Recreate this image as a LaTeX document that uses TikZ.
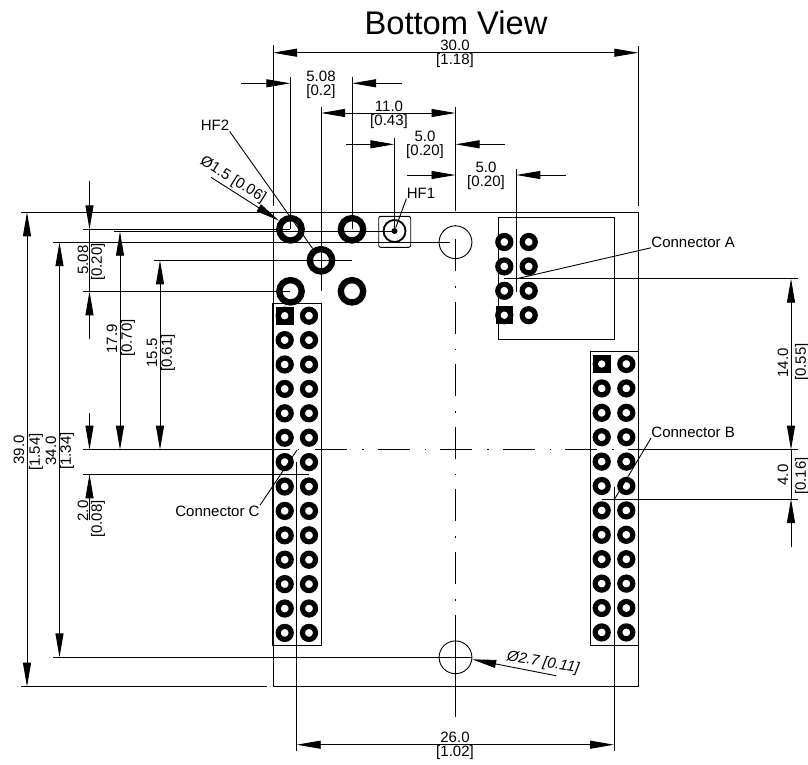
\documentclass[tikz,border=0pt]{standalone}
\usepackage{fontspec}
\setmainfont{Liberation Sans}
\usetikzlibrary{arrows.meta,calc}
\tikzset{
	dimtext/.style={inner sep=0pt,font=\fontsize{15}{15}\selectfont},
	dimsingle/.style={-{Triangle[length=24pt,width=8pt]}},
	dimboth/.style={{Triangle[length=24pt,width=8pt]}-{Triangle[length=24pt,width=8pt]}},
	holering/.style={circle,draw,line width=6.3pt,minimum size=22.4pt,inner sep=0pt},
	padring/.style={circle,draw,line width=5.2pt,minimum size=13pt,inner sep=0pt},
	padsquare/.style={rectangle,fill=black,minimum size=17.6pt,inner sep=0pt},
	mounthole/.style={circle,draw,line width=0.9pt,minimum size=32.8pt,inner sep=0pt},
	centerline/.style={dash pattern=on 32pt off 15pt on 1.5pt off 14.1pt}
}

\begin{document}
\begin{tikzpicture}[x=1pt,y=-1pt,line width=0.9pt]
	\useasboundingbox (0,0) rectangle (808,764);
	\node[inner sep=0pt,font=\fontsize{32.7}{33}\selectfont] (title) at (456,23) {Bottom View};

	\draw (273,212) rectangle (638.3,686.7);
	\node[draw,rectangle,minimum width=48.5pt,minimum height=341.7pt,inner sep=0pt] (boxc) at (297,474.2) {};
	\node[draw,rectangle,minimum width=48.3pt,minimum height=293.3pt,inner sep=0pt] (boxb) at (614.2,498.4) {};
	\node[draw,rectangle,minimum width=116pt,minimum height=122pt,inner sep=0pt] (boxa) at (556.3,278.3) {};

	\foreach \hdr/\xa/\xb/\ya/\n in {cc/284.7/309/315.7/13,cb/601.7/626.3/364/11,ca/504.3/528.7/242/3}
		\foreach \r in {0,...,\n} {
			\node[padring] (\hdr-\r-a) at (\xa,\ya+24.4*\r) {};
			\node[padring] (\hdr-\r-b) at (\xb,\ya+24.4*\r) {};
		}
	\foreach \sq/\at in {sqc/cc-0-a,sqb/cb-0-a,sqa/ca-3-a} {
		\node[padsquare] (\sq) at (\at) {};
		\fill[white] (\sq) circle (3.7pt);
	}

	\node[holering] (holetl) at (290.5,229.3) {};
	\node[holering] (holetr) at (352,229.3) {};
	\node[holering] (holemid) at (321,260.3) {};
	\node[holering] (holebl) at (290.5,291.3) {};
	\node[holering] (holebr) at (352,291.3) {};
	\node[mounthole] (mtop) at (455.5,242.2) {};
	\node[mounthole] (mbot) at (455.5,657.3) {};
	\node[draw,rectangle,rounded corners=2pt,minimum width=32pt,minimum height=31pt,inner sep=0pt] (hfbox) at (394.7,231.8) {};
	\node[circle,draw,line width=1.8pt,minimum size=22pt,inner sep=0pt] (hfring) at (394.5,231) {};
	\node[circle,fill=black,minimum size=6pt,inner sep=0pt] (hfdot) at (394.5,231) {};

	\draw (273,45) -- (273,206);
	\draw (638.3,46) -- (638.3,206);
	\draw (290.3,77) -- (290.3,229.3);
	\draw (352,77) -- (352,229.3);
	\draw (321,107) -- (321,291);
	\draw (394.3,138) -- (394.3,231);
	\draw (516.3,169) -- (516.3,292);
	\draw (296.7,461.7) -- (296.7,751);
	\draw (614,486.7) -- (614,751);
	\draw (21,212.3) -- (273,212.3);
	\draw (21,686.7) -- (267,686.7);
	\draw (83,229.3) -- (290.3,229.3);
	\draw (114,231.7) -- (394.5,231.7);
	\draw (53,242.2) -- (450,242.2);
	\draw (154,260.3) -- (352,260.3);
	\draw (83,291.3) -- (290.3,291.3);
	\draw (83,449.7) -- (290,449.7);
	\draw (83,474.3) -- (309,474.3);
	\draw (53,657.3) -- (472.3,657.3);
	\draw (504,278.7) -- (797.7,278.7);
	\draw (601.7,499) -- (797.7,499);

	\draw (455.5,107) -- (455.5,210.7);
	\draw (455.5,224.5) -- (455.5,226);
	\draw[centerline] (455.5,239) -- (455.5,614.6);
	\draw (455.5,614.6) -- (455.5,717);
	\draw (297.5,449.7) -- (299,449.7);
	\draw[centerline] (315,449.7) -- (628,449.7);
	\draw (628,449.7) -- (798,449.7);

	\path[dimboth]
	(273,52.7) edge (638.3,52.7)
	(321,113) edge (455.5,113)
	(296.7,744.7) edge (614,744.7)
	(120,231.7) edge (120,449.7)
	(160,260.3) edge (160,449.7)
	(59.5,242.2) edge (59.5,657.3)
	(27,212.3) edge (27,686.7)
	(791,278.7) edge (791,449.7);

	\path[dimsingle]
	(241,83.3) edge (290.3,83.3)
	(401.7,83.3) edge (352,83.3)
	(346,144.3) edge (394.3,144.3)
	(505,144.3) edge (455.5,144.3)
	(407,175) edge (455.5,175)
	(565.7,175) edge (516.3,175)
	(89.5,180.7) edge (89.5,229.3)
	(89.5,339) edge (89.5,291.3)
	(89.5,413) edge (89.5,449.7)
	(89.5,510) edge (89.5,474.3)
	(791,546.7) edge (791,499);
	\draw (89.5,229.3) -- (89.5,291.3);
	\draw (89.5,474.3) -- (89.5,520);
	\draw (791,449.7) -- (791,499);

	\foreach \x/\y/\t [count=\i] in {455/45/{30.0},455/61/{[1.18]},321/76/{5.08},321/92/{[0.2]},
		389/106/{11.0},389/122/{[0.43]},425/136/{5.0},425/152/{[0.20]},486/167/{5.0},486/183/{[0.20]},
		455/737/{26.0},455/753/{[1.02]}}
		\node[dimtext] (dimh\i) at (\x,\y) {\t};
	\foreach \x/\y/\t [count=\i] in {83/260/{5.08},98/262/{[0.20]},112/339/{17.9},128/338/{[0.70]},
		152/353/{15.5},168/353/{[0.61]},51/451/{34.0},67/451/{[1.34]},19/450/{39.0},36/452/{[1.54]},
		83/511/{2.0},98/519/{[0.08]},783/363/{14.0},802/362/{[0.55]},783/475/{4.0},802/476/{[0.16]}}
		\node[dimtext,rotate=90] (dimv\i) at (\x,\y) {\t};

	\node[dimtext] (hfone) at (421,193) {HF1};
	\node[dimtext] (hftwo) at (215,125.7) {HF2};
	\node[dimtext,anchor=west] (conna) at (651,242) {Connector A};
	\node[dimtext,anchor=west] (connb) at (651,432.3) {Connector B};
	\node[dimtext,anchor=east] (connc) at (260,511) {Connector C};
	\node[dimtext,rotate=-32] (diaone) at (233,180) {Ø1.5 [0.06]};
	\node[dimtext,rotate=-10,font=\fontsize{15}{15}\selectfont\itshape] (diatwo) at (543,662.7) {Ø2.7 [0.11]};

	\coordinate (leada) at (516.7,278.7);
	\coordinate (leadb) at (615,498.3);
	\coordinate (leadc) at (297,450);
	\coordinate (taila) at (211,177.3);
	\coordinate (tailb) at (556,675.7);
	\draw (hfone.south west) -- (hfdot);
	\draw (hftwo.south east) -- (holemid);
	\draw (conna.south west) -- (leada);
	\draw (connb.south west) -- (leadb);
	\draw (connc.north east) -- (leadc);
	\path[dimsingle]
	(taila) edge (holetl.143)
	(tailb) edge (mbot.-7);
\end{tikzpicture}
\end{document}
